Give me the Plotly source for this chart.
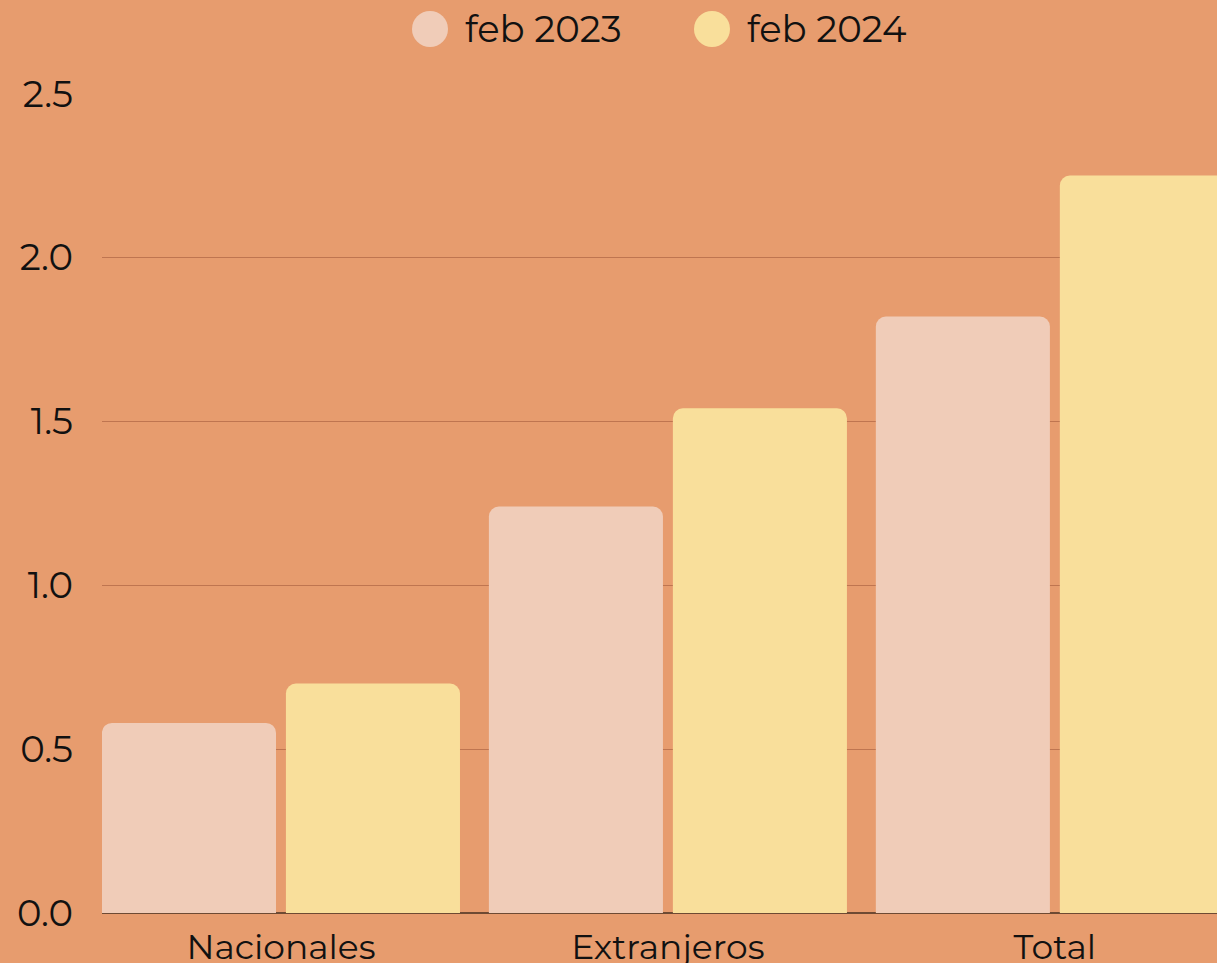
import plotly.graph_objects as go

categories = ["Nacionales", "Extranjeros", "Total"]
series_names = ["feb 2023", "feb 2024"]
values_2023 = [0.58, 1.24, 1.82]
values_2024 = [0.70, 1.54, 2.25]
series_values = [values_2023, values_2024]
series_colors = ["#F0CCB8", "#F9DF9B"]
y_ticks = [0.0, 0.5, 1.0, 1.5, 2.0, 2.5]

BG = "#E79C6E"
FONT = "Montserrat, Lato, 'Open Sans', sans-serif"

W, H = 1217, 963
ML, MR, MT, MB = 102, 0, 93, 50
pw, ph = W - ML - MR, H - MT - MB

fig = go.Figure()
for name, vals, col in zip(series_names, series_values, series_colors):
    fig.add_trace(go.Bar(x=categories, y=vals, name=name, marker_color=col,
                         marker_line_width=0, showlegend=False))

# custom legend with large circles
legend_cx = [430, 712]
legend_tx = [463, 745]
legend_cy = 29
for name, col, cx, tx in zip(series_names, series_colors, legend_cx, legend_tx):
    fig.add_shape(type="circle", xref="paper", yref="paper",
                  xsizemode="pixel", ysizemode="pixel",
                  xanchor=(cx - ML) / pw, yanchor=(H - MB - legend_cy) / ph,
                  x0=-18, x1=18, y0=-18, y1=18,
                  fillcolor=col, line_width=0)
    fig.add_annotation(text=name, xref="paper", yref="paper",
                       x=(tx - ML) / pw, y=(H - MB - legend_cy) / ph,
                       xanchor="left", yanchor="middle", showarrow=False,
                       font=dict(size=37, color="#111111", family=FONT))

fig.update_layout(
    width=W, height=H,
    margin=dict(l=ML, r=MR, t=MT, b=MB, pad=0, autoexpand=False),
    paper_bgcolor=BG, plot_bgcolor=BG,
    barmode="group", bargap=0.049, bargroupgap=0.054,
    barcornerradius=10,
    font=dict(family=FONT, size=35, color="#111111"),
    showlegend=False,
)
fig.update_xaxes(range=[-0.4625, 2.419], showgrid=False, zeroline=False,
                 showline=False, ticks="", ticklabelstandoff=10,
                 automargin=False, tickfont=dict(size=34.5))
fig.update_yaxes(range=[0, 2.502], tickvals=y_ticks, tickformat=".1f",
                 showgrid=True, gridcolor="#BF7550", gridwidth=1,
                 zeroline=True, zerolinecolor="#6E4A33", zerolinewidth=2,
                 showline=False, ticks="", ticklabelstandoff=28,
                 automargin=False, tickfont=dict(size=37))

fig.write_html("out.html",
               config={"displayModeBar": False},
               post_script="document.body.style.margin='0';"
                           "document.body.style.overflow='hidden';")
